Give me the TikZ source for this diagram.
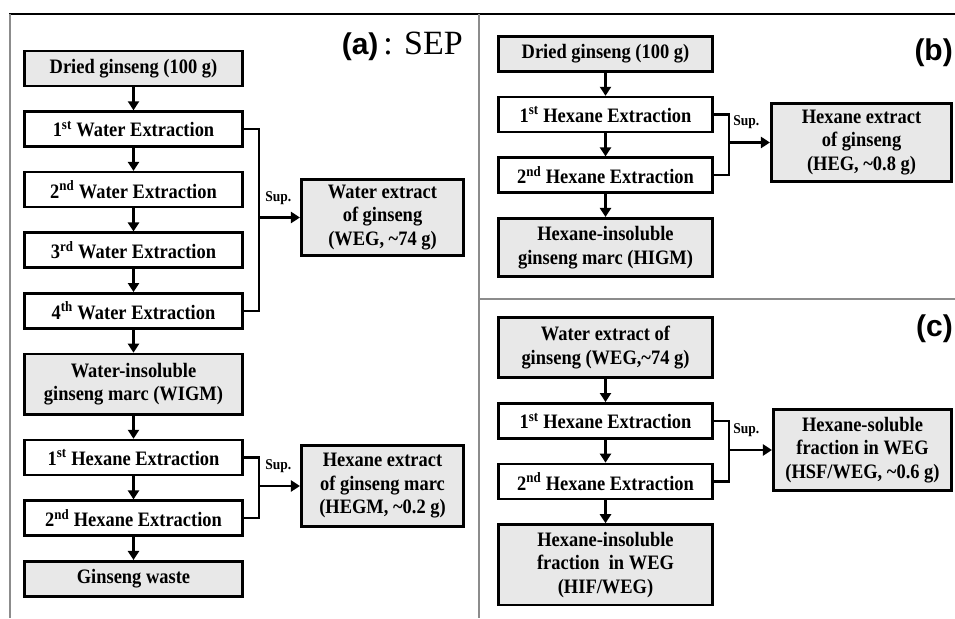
\documentclass[tikz,border=0pt]{standalone}
\usepackage{fontspec}
\setmainfont[FakeStretch=0.9]{Liberation Serif}
\newfontfamily\labelserif{Liberation Serif}
\newfontfamily\panelfont{Liberation Sans}
\usetikzlibrary{positioning,arrows.meta}
\begin{document}
\begin{tikzpicture}[
      x=1pt,y=1pt,
      font=\fontsize{20.5}{23.5}\selectfont\bfseries,
      node distance=23pt,
      box/.style={draw=black,line width=2.6pt,inner sep=1pt,align=center,minimum height=35pt},
      stage/.style={box,fill=white},
      prod/.style={box,fill=black!9},
      cola/.style={minimum width=218.5pt},
      colb/.style={minimum width=214.5pt},
      lab/.style={font=\fontsize{30}{32}\selectfont,inner sep=0pt},
      sup/.style={font=\fontsize{15}{16}\selectfont\bfseries,inner sep=0pt},
      flow/.style={line width=2.6pt,-{Triangle[length=9pt,width=11pt]}},
      bracket/.style={line width=2.4pt},
      frame/.style={line width=1.5pt,draw=black!45},
      ]
      \useasboundingbox (0,0) rectangle (955,618);
      \draw[line width=1.5pt] (9,604) -- (955,604);
      \draw[frame] (10,604) -- (10,0);
      \draw[frame] (479,604) -- (479,0);
      \draw[frame] (479,319) -- (955,319);

      % (a)
      \node[lab,anchor=east] (ta) at (463,572) {{\panelfont\bfseries (a)}\,{\labelserif\fontsize{34}{36}\selectfont: SEP}};
      \node[prod,cola] (a0) at (133.5,549.5) {Dried ginseng (100 g)};
      \node[stage,cola,below=of a0] (a1) {1\textsuperscript{st} Water Extraction};
      \node[stage,cola,below=of a1] (a2) {2\textsuperscript{nd} Water Extraction};
      \node[stage,cola,below=of a2] (a3) {3\textsuperscript{rd} Water Extraction};
      \node[stage,cola,below=of a3] (a4) {4\textsuperscript{th} Water Extraction};
      \node[prod,cola,minimum height=60.5pt,below=of a4] (a5) {Water-insoluble\\ginseng marc (WIGM)};
      \node[stage,cola,below=of a5] (a6) {1\textsuperscript{st} Hexane Extraction};
      \node[stage,cola,below=of a6] (a7) {2\textsuperscript{nd} Hexane Extraction};
      \node[prod,cola,below=of a7] (a8) {Ginseng waste};
      \node[prod,minimum width=162.5pt,minimum height=76.5pt] (aw) at (382.5,400.5)
        {Water extract\\of ginseng\\(WEG, \textasciitilde74 g)};
      \node[prod,minimum width=162.5pt,minimum height=81.5pt] (ah) at (382.5,132)
        {Hexane extract\\of ginseng marc\\(HEGM, \textasciitilde0.2 g)};
      \foreach \i/\j in {a0/a1,a1/a2,a2/a3,a3/a4,a4/a5,a5/a6,a6/a7,a7/a8}
        \draw[flow] (\i) -- (\j);
      \draw[bracket] (a1.east) -- ++(15,0) |- (a4.east);
      \draw[flow] ([xshift=15pt]a1.east |- aw.west) -- (aw.west)
        node[sup,pos=0,above right=12pt and 5pt] {Sup.};
      \draw[bracket] (a6.east) -- ++(15,0) |- (a7.east);
      \draw[flow] ([xshift=15pt]a6.east |- ah.west) -- (ah.west)
        node[sup,pos=0,above right=12pt and 5pt] {Sup.};

      % (b)
      \node[lab,anchor=east] (tb) at (953,565) {\panelfont\bfseries (b)};
      \node[prod,colb] (b0) at (605.5,564) {Dried ginseng (100 g)};
      \node[stage,colb,below=of b0] (b1) {1\textsuperscript{st} Hexane Extraction};
      \node[stage,colb,below=of b1] (b2) {2\textsuperscript{nd} Hexane Extraction};
      \node[prod,colb,minimum height=58.5pt,below=of b2] (b3) {Hexane-insoluble\\ginseng marc (HIGM)};
      \node[prod,minimum width=180.5pt,minimum height=78.5pt] (bh) at (861.5,475.5)
        {Hexane extract\\of ginseng\\(HEG, \textasciitilde0.8 g)};
      \foreach \i/\j in {b0/b1,b1/b2,b2/b3}
        \draw[flow] (\i) -- (\j);
      \draw[bracket] (b1.east) -- ++(15,0) |- (b2.east);
      \draw[flow] ([xshift=15pt]b1.east |- bh.west) -- (bh.west)
        node[sup,pos=0,above right=12pt and 3pt] {Sup.};

      % (c)
      \node[lab,anchor=east] (tc) at (953,289) {\panelfont\bfseries (c)};
      \node[prod,colb,minimum height=60.5pt] (c0) at (605.5,270.5) {Water extract of\\ginseng (WEG,\textasciitilde74 g)};
      \node[stage,colb,below=of c0] (c1) {1\textsuperscript{st} Hexane Extraction};
      \node[stage,colb,below=of c1] (c2) {2\textsuperscript{nd} Hexane Extraction};
      \node[prod,colb,minimum height=80.5pt,below=of c2] (c3) {Hexane-insoluble\\fraction~ in WEG\\(HIF/WEG)};
      \node[prod,minimum width=178.5pt,minimum height=81.5pt] (cs) at (862.5,168)
        {Hexane-soluble\\fraction in WEG\\(HSF/WEG, \textasciitilde0.6 g)};
      \foreach \i/\j in {c0/c1,c1/c2,c2/c3}
        \draw[flow] (\i) -- (\j);
      \draw[bracket] (c1.east) -- ++(15,0) |- (c2.east);
      \draw[flow] ([xshift=15pt]c1.east |- cs.west) -- (cs.west)
        node[sup,pos=0,above right=12pt and 3pt] {Sup.};
\end{tikzpicture}
\end{document}
